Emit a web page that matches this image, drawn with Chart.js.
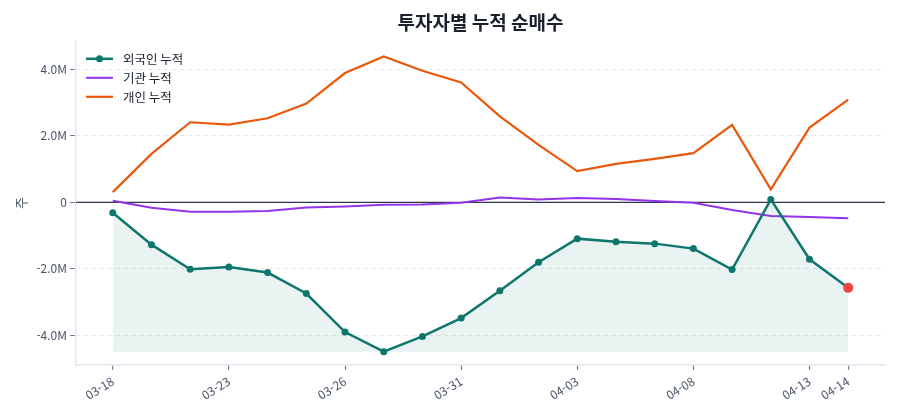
<!DOCTYPE html>
<html lang="ko">
<head>
<meta charset="utf-8">
<script src="https://cdn.jsdelivr.net/npm/chart.js@4.4.1/dist/chart.umd.min.js"></script>
<style>
  html, body { margin: 0; padding: 0; background: #ffffff; }
  #wrap { width: 900px; height: 420px; position: relative; }
</style>
</head>
<body>
<div id="wrap"><canvas id="c"></canvas></div>
<script>
const dates = ['03-18','03-19','03-20','03-23','03-24','03-25','03-26','03-27','03-30','03-31',
               '04-01','04-02','04-03','04-06','04-07','04-08','04-09','04-10','04-13','04-14'];
const foreign = [-310000,-1270000,-2010000,-1940000,-2110000,-2740000,-3900000,-4490000,-4030000,-3480000,
                 -2660000,-1800000,-1090000,-1180000,-1240000,-1390000,-2020000,90000,-1710000,-2570000];
const institution = [50000,-160000,-280000,-280000,-260000,-150000,-120000,-70000,-60000,-10000,
                     150000,90000,130000,100000,40000,-10000,-230000,-410000,-440000,-480000];
const individual = [310000,1460000,2410000,2340000,2530000,2970000,3890000,4390000,3960000,3610000,
                    2590000,1730000,940000,1160000,1310000,1480000,2330000,390000,2250000,3090000];
const xTickLabels = ['03-18','03-23','03-26','03-31','04-03','04-08','04-13','04-14'];
const yTickValues = [-4000000,-2000000,0,2000000,4000000];
const seriesLabels = ['외국인 누적','기관 누적','개인 누적'];
const titleText = '투자자별 누적 순매수';
const yTitle = '주';

const FONT = '"Noto Sans CJK KR", "Noto Sans", sans-serif';
const TEAL = '#0f766e', PURPLE = '#9333ea', ORANGE = '#ea580c', RED = '#ef4444';

const toXY = arr => arr.map((v, i) => ({x: i, y: v}));
const lastIdx = dates.length - 1;
const foreignMin = Math.min(...foreign);

const zeroLine = {
  id: 'zeroLine',
  beforeDatasetsDraw(chart) {
    const {ctx, chartArea, scales} = chart;
    const y = scales.y.getPixelForValue(0);
    ctx.save();
    ctx.strokeStyle = '#2d3748';
    ctx.lineWidth = 1.2;
    ctx.beginPath();
    ctx.moveTo(chartArea.left, y);
    ctx.lineTo(chartArea.right, y);
    ctx.stroke();
    ctx.restore();
  }
};

const customLegend = {
  id: 'customLegend',
  afterDraw(chart) {
    const {ctx, chartArea} = chart;
    const x0 = chartArea.left + 10, y0 = chartArea.top + 18, rowH = 19;
    ctx.save();
    ctx.font = '12.5px ' + FONT;
    ctx.textBaseline = 'middle';
    ctx.textAlign = 'left';
    chart.data.datasets.forEach((ds, i) => {
      const y = y0 + i * rowH;
      ctx.strokeStyle = ds.borderColor;
      ctx.lineWidth = ds.borderWidth;
      ctx.beginPath();
      ctx.moveTo(x0, y);
      ctx.lineTo(x0 + 27, y);
      ctx.stroke();
      if (i === 0) {
        ctx.fillStyle = ds.borderColor;
        ctx.beginPath();
        ctx.arc(x0 + 13.5, y, 3.5, 0, Math.PI * 2);
        ctx.fill();
      }
      ctx.fillStyle = '#1a202c';
      ctx.fillText(ds.label, x0 + 37, y + 0.5);
    });
    ctx.restore();
  }
};

new Chart(document.getElementById('c'), {
  type: 'line',
  data: {
    datasets: [
      {
        label: seriesLabels[0],
        data: toXY(foreign),
        borderColor: TEAL,
        borderWidth: 2.5,
        backgroundColor: 'rgba(15,118,110,0.09)',
        fill: {value: foreignMin},
        pointRadius: ctx => ctx.dataIndex === lastIdx ? 5 : 3.5,
        pointBackgroundColor: ctx => ctx.dataIndex === lastIdx ? RED : TEAL,
        pointBorderColor: ctx => ctx.dataIndex === lastIdx ? RED : TEAL,
        pointBorderWidth: 0,
        tension: 0
      },
      {
        label: seriesLabels[1],
        data: toXY(institution),
        borderColor: PURPLE,
        borderWidth: 2,
        pointRadius: 0,
        fill: false,
        tension: 0
      },
      {
        label: seriesLabels[2],
        data: toXY(individual),
        borderColor: ORANGE,
        borderWidth: 2.2,
        pointRadius: 0,
        fill: false,
        tension: 0
      }
    ]
  },
  options: {
    responsive: true,
    maintainAspectRatio: false,
    animation: false,
    layout: {padding: {left: 0, right: 15, top: 0, bottom: 0}},
    plugins: {
      legend: {display: false},
      tooltip: {enabled: false},
      title: {
        display: true,
        text: titleText,
        fullSize: false,
        color: '#1a202c',
        font: {family: FONT, size: 19, weight: 'bold', lineHeight: 1.2},
        padding: {top: 11, bottom: 7}
      }
    },
    scales: {
      x: {
        type: 'linear',
        min: -0.95,
        max: lastIdx + 0.95,
        afterBuildTicks: axis => {
          axis.ticks = xTickLabels.map(l => ({value: dates.indexOf(l)}));
        },
        afterFit: scale => { scale.height = 55; },
        ticks: {
          autoSkip: false,
          minRotation: 32,
          maxRotation: 32,
          padding: 4,
          color: '#4a5568',
          font: {family: FONT, size: 12},
          callback: v => dates[v]
        },
        grid: {
          display: true,
          drawOnChartArea: false,
          drawTicks: true,
          tickLength: 5,
          tickColor: '#718096',
          tickWidth: 1.2
        },
        border: {display: true, color: '#e2e8f0', width: 1.5}
      },
      y: {
        type: 'linear',
        min: -4890000,
        max: 4860000,
        afterBuildTicks: axis => {
          axis.ticks = yTickValues.map(v => ({value: v}));
        },
        afterFit: scale => { scale.width = 76; },
        title: {
          display: true,
          text: yTitle,
          color: '#4a5568',
          font: {family: FONT, size: 13, lineHeight: 1.2},
          padding: {top: 13, bottom: 4}
        },
        ticks: {
          padding: 3,
          color: '#4a5568',
          font: {family: FONT, size: 12},
          callback: v => v === 0 ? '0' : (v / 1e6).toFixed(1) + 'M'
        },
        grid: {
          display: true,
          drawOnChartArea: true,
          drawTicks: true,
          tickLength: 6,
          color: '#e5e7eb',
          lineWidth: 1,
          tickColor: '#718096',
          tickWidth: 1,
          tickBorderDash: []
        },
        border: {display: true, color: '#e2e8f0', width: 1.5, dash: [4, 4]}
      }
    }
  },
  plugins: [zeroLine, customLegend]
});
</script>
</body>
</html>
